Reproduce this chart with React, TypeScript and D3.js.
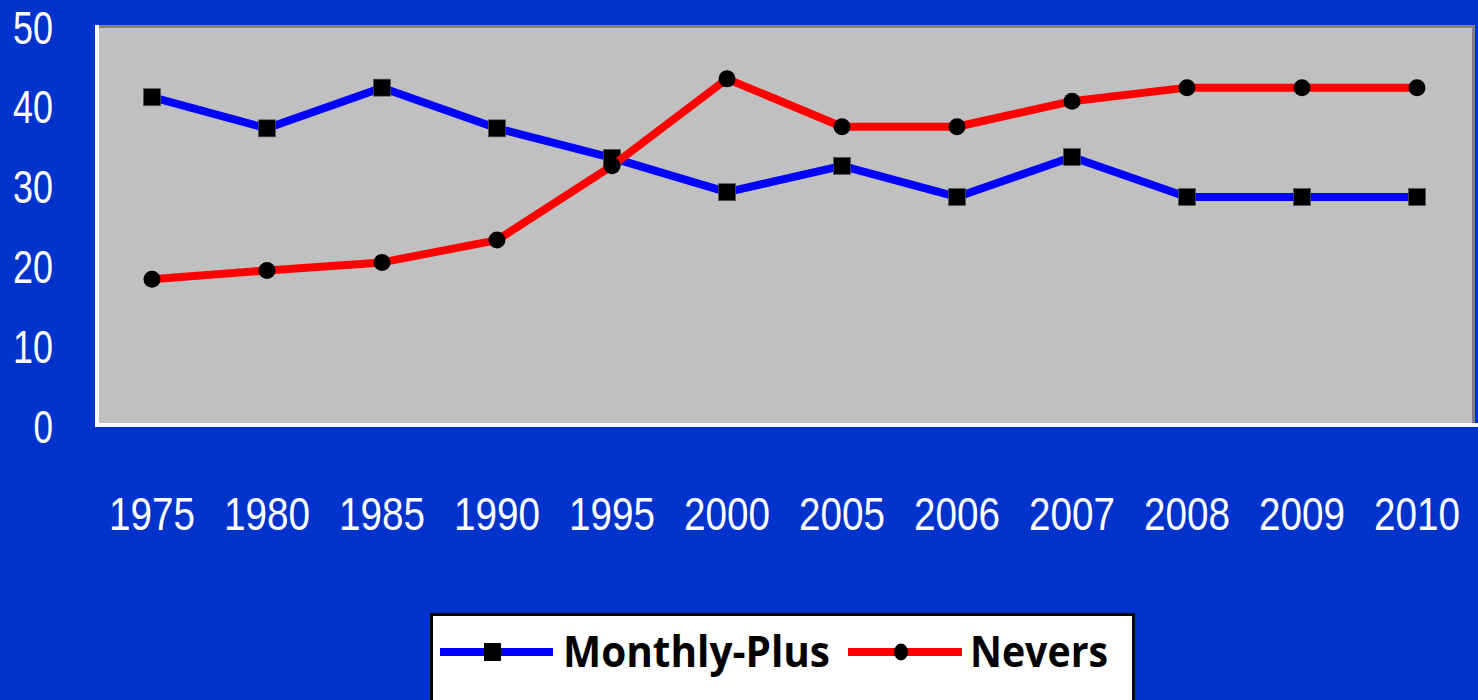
import { useEffect, useRef } from 'react';
import * as d3 from 'd3';

const years = ['1975', '1980', '1985', '1990', '1995', '2000', '2005', '2006', '2007', '2008', '2009', '2010'];
const monthlyPlus = [41.2, 37.3, 42.4, 37.3, 33.6, 29.3, 32.6, 28.7, 33.7, 28.7, 28.7, 28.7];
const nevers = [18.4, 19.5, 20.5, 23.3, 32.6, 43.5, 37.5, 37.5, 40.7, 42.4, 42.4, 42.4];
const yTicks = [0, 10, 20, 30, 40, 50];

export default function App() {
  const svgRef = useRef<SVGSVGElement>(null);

  useEffect(() => {
    document.body.style.margin = '0';
    const svg = d3.select(svgRef.current);
    svg.selectAll('*').remove();

    const W = 1478, H = 700;
    const plot = { left: 97, right: 1475, top: 25, bottom: 426 };

    svg.attr('width', W).attr('height', H);
    svg.append('rect').attr('width', W).attr('height', H).attr('fill', '#0033CC');

    const x = d3.scalePoint<string>()
      .domain(years)
      .range([94.5, 1474.5])
      .padding(0.5);
    const y = d3.scaleLinear().domain([0, 50]).range([plot.bottom, 27]);

    // plot area
    svg.append('rect')
      .attr('x', plot.left).attr('y', plot.top)
      .attr('width', plot.right - plot.left).attr('height', plot.bottom - plot.top)
      .attr('fill', '#C0C0C0');
    // dark top/right edges
    svg.append('path')
      .attr('d', `M${plot.left},${plot.top + 1.5}H${plot.right - 1.5}V${plot.bottom}`)
      .attr('fill', 'none').attr('stroke', '#808080').attr('stroke-width', 3);
    // white left/bottom edges
    svg.append('path')
      .attr('d', `M${plot.left},${plot.top}V${plot.bottom - 1}H${W}`)
      .attr('fill', 'none').attr('stroke', '#FFFFFF').attr('stroke-width', 4);

    const font = '"Liberation Sans", Arial, sans-serif';
    const digitW = 20.5;

    // y labels
    svg.append('g').selectAll('text')
      .data(yTicks)
      .enter().append('text')
      .attr('x', 53)
      .attr('y', d => y(d))
      .attr('dy', '0.36em')
      .attr('text-anchor', 'end')
      .attr('textLength', d => String(d).length * digitW - 1)
      .attr('lengthAdjust', 'spacingAndGlyphs')
      .attr('fill', '#FFFFFF')
      .style('font-family', font)
      .style('font-size', '46px')
      .text(d => d);

    // x labels
    svg.append('g').selectAll('text')
      .data(years)
      .enter().append('text')
      .attr('x', d => x(d)!)
      .attr('y', 530)
      .attr('text-anchor', 'middle')
      .attr('textLength', 86)
      .attr('lengthAdjust', 'spacingAndGlyphs')
      .attr('fill', '#FFFFFF')
      .style('font-family', font)
      .style('font-size', '47px')
      .text(d => d);

    const line = d3.line<number>()
      .x((_, i) => x(years[i])!)
      .y(d => y(d));

    // Monthly-Plus
    svg.append('path')
      .attr('d', line(monthlyPlus))
      .attr('fill', 'none').attr('stroke', '#0000FF').attr('stroke-width', 8)
      .attr('stroke-linejoin', 'round');
    svg.append('g').selectAll('rect')
      .data(monthlyPlus)
      .enter().append('rect')
      .attr('x', (_, i) => x(years[i])! - 8.5)
      .attr('y', d => y(d) - 8.5)
      .attr('width', 17).attr('height', 17)
      .attr('fill', '#000000').attr('stroke', '#555555').attr('stroke-width', 0.7);

    // Nevers
    svg.append('path')
      .attr('d', line(nevers))
      .attr('fill', 'none').attr('stroke', '#FF0000').attr('stroke-width', 8)
      .attr('stroke-linejoin', 'round');
    svg.append('g').selectAll('circle')
      .data(nevers)
      .enter().append('circle')
      .attr('cx', (_, i) => x(years[i])!)
      .attr('cy', d => y(d))
      .attr('r', 8.5)
      .attr('fill', '#000000');

    // legend
    const lg = svg.append('g');
    lg.append('rect')
      .attr('x', 431.5).attr('y', 614.5).attr('width', 702).attr('height', 100)
      .attr('fill', '#FFFFFF').attr('stroke', '#000000').attr('stroke-width', 3);
    const ly = 652;
    lg.append('line').attr('x1', 440).attr('x2', 553).attr('y1', ly).attr('y2', ly)
      .attr('stroke', '#0000FF').attr('stroke-width', 8);
    lg.append('rect').attr('x', 484).attr('y', ly - 9).attr('width', 17).attr('height', 18)
      .attr('fill', '#000000');
    lg.append('text').attr('x', 563).attr('y', 667)
      .attr('textLength', 267).attr('lengthAdjust', 'spacingAndGlyphs')
      .style('font-family', '"Open Sans", sans-serif').style('font-weight', 'bold')
      .style('font-size', '43px').attr('fill', '#000000')
      .text('Monthly-Plus');
    lg.append('line').attr('x1', 848).attr('x2', 962).attr('y1', ly).attr('y2', ly)
      .attr('stroke', '#FF0000').attr('stroke-width', 8);
    lg.append('ellipse').attr('cx', 901).attr('cy', ly).attr('rx', 7).attr('ry', 8.5)
      .attr('fill', '#000000');
    lg.append('text').attr('x', 970).attr('y', 667)
      .attr('textLength', 138).attr('lengthAdjust', 'spacingAndGlyphs')
      .style('font-family', '"Open Sans", sans-serif').style('font-weight', 'bold')
      .style('font-size', '43px').attr('fill', '#000000')
      .text('Nevers');
  }, []);

  return <svg ref={svgRef} style={{ display: 'block' }} />;
}
